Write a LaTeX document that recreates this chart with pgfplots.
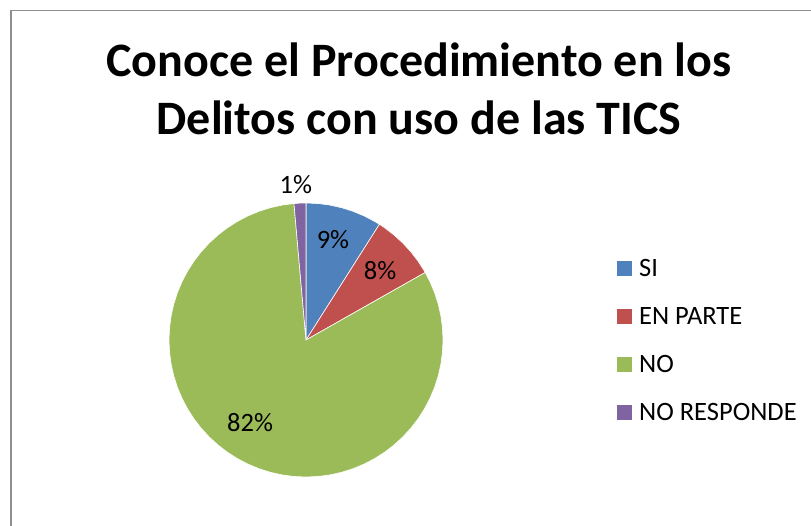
\documentclass[border=0pt]{standalone}
\usepackage{fontspec}
\setmainfont{Carlito}
\usepackage{pgfplots}
\pgfplotsset{compat=1.18}
\usepgfplotslibrary{polar}
\definecolor{cSI}{HTML}{4F81BD}
\definecolor{cEP}{HTML}{C0504D}
\definecolor{cNO}{HTML}{9BBB59}
\definecolor{cNR}{HTML}{8064A2}
\definecolor{frame}{HTML}{8E8E8E}
\begin{document}
\begin{tikzpicture}
\useasboundingbox (0,0) rectangle (811pt,526pt);
\clip (0,0) rectangle (811pt,526pt);
\fill[white] (0,0) rectangle (811pt,526pt);
\draw[frame, line width=1.5pt] (10.75pt,-20pt) rectangle (840pt,515.25pt);
% title
\node[anchor=base, font=\fontsize{48}{57}\selectfont\bfseries, inner sep=0pt] at (419pt,449pt) {Conoce el Procedimiento en los};
\node[anchor=base, font=\fontsize{48}{57}\selectfont\bfseries, inner sep=0pt] at (419pt,391pt) {Delitos con uso de las TICS};
\begin{polaraxis}[
  at={(306pt,186pt)}, anchor=center,
  width=274pt, height=274pt, scale only axis,
  hide axis, ymin=0, ymax=1, clip=false,
  every axis plot/.append style={draw=white, line width=0.6pt},
]
% SI 9.0%
\addplot[fill=cSI] coordinates {(0,0) (90,1) (85,1) (80,1) (75,1) (70,1) (65,1) (60,1) (57.6,1) (0,0)} -- cycle;
% EN PARTE 7.8%
\addplot[fill=cEP] coordinates {(0,0) (57.6,1) (55,1) (50,1) (45,1) (40,1) (35,1) (30,1) (29.52,1) (0,0)} -- cycle;
% NO 81.8%
\addplot[fill=cNO] coordinates {(0,0) (29.52,1) (25,1) (20,1) (15,1) (10,1) (5,1) (0,1)
 (-5,1) (-10,1) (-15,1) (-20,1) (-25,1) (-30,1) (-35,1) (-40,1) (-45,1) (-50,1)
 (-55,1) (-60,1) (-65,1) (-70,1) (-75,1) (-80,1) (-85,1) (-90,1) (-95,1) (-100,1)
 (-105,1) (-110,1) (-115,1) (-120,1) (-125,1) (-130,1) (-135,1) (-140,1) (-145,1) (-150,1)
 (-155,1) (-160,1) (-165,1) (-170,1) (-175,1) (-180,1) (-185,1) (-190,1) (-195,1) (-200,1)
 (-205,1) (-210,1) (-215,1) (-220,1) (-225,1) (-230,1) (-235,1) (-240,1) (-245,1) (-250,1)
 (-255,1) (-260,1) (-264.96,1) (0,0)} -- cycle;
% NO RESPONDE 1.4%
\addplot[fill=cNR] coordinates {(0,0) (95.04,1) (92.5,1) (90,1) (0,0)} -- cycle;
\node[font=\fontsize{26.5}{26.5}\selectfont] at (axis cs:74.9,0.756) {9\%};
\node[font=\fontsize{26.5}{26.5}\selectfont] at (axis cs:43,0.74) {8\%};
\node[font=\fontsize{26.5}{26.5}\selectfont] at (axis cs:236,0.73) {82\%};
\node[font=\fontsize{26.5}{26.5}\selectfont] at (axis cs:93.7,1.14) {1\%};
\end{polaraxis}
% legend
\foreach \c/\t/\y in {cSI/SI/277, cEP/EN PARTE/325, cNO/NO/373, cNR/NO RESPONDE/421}{
  \fill[\c] (617pt,{(526-\y+1)*1pt}) rectangle (631.5pt,{(526-\y+15.5)*1pt});
  \node[anchor=base west, inner sep=0pt, font=\fontsize{26.5}{26.5}\selectfont] at (639pt,{(526-\y)*1pt}) {\t};
}
\end{tikzpicture}
\end{document}
